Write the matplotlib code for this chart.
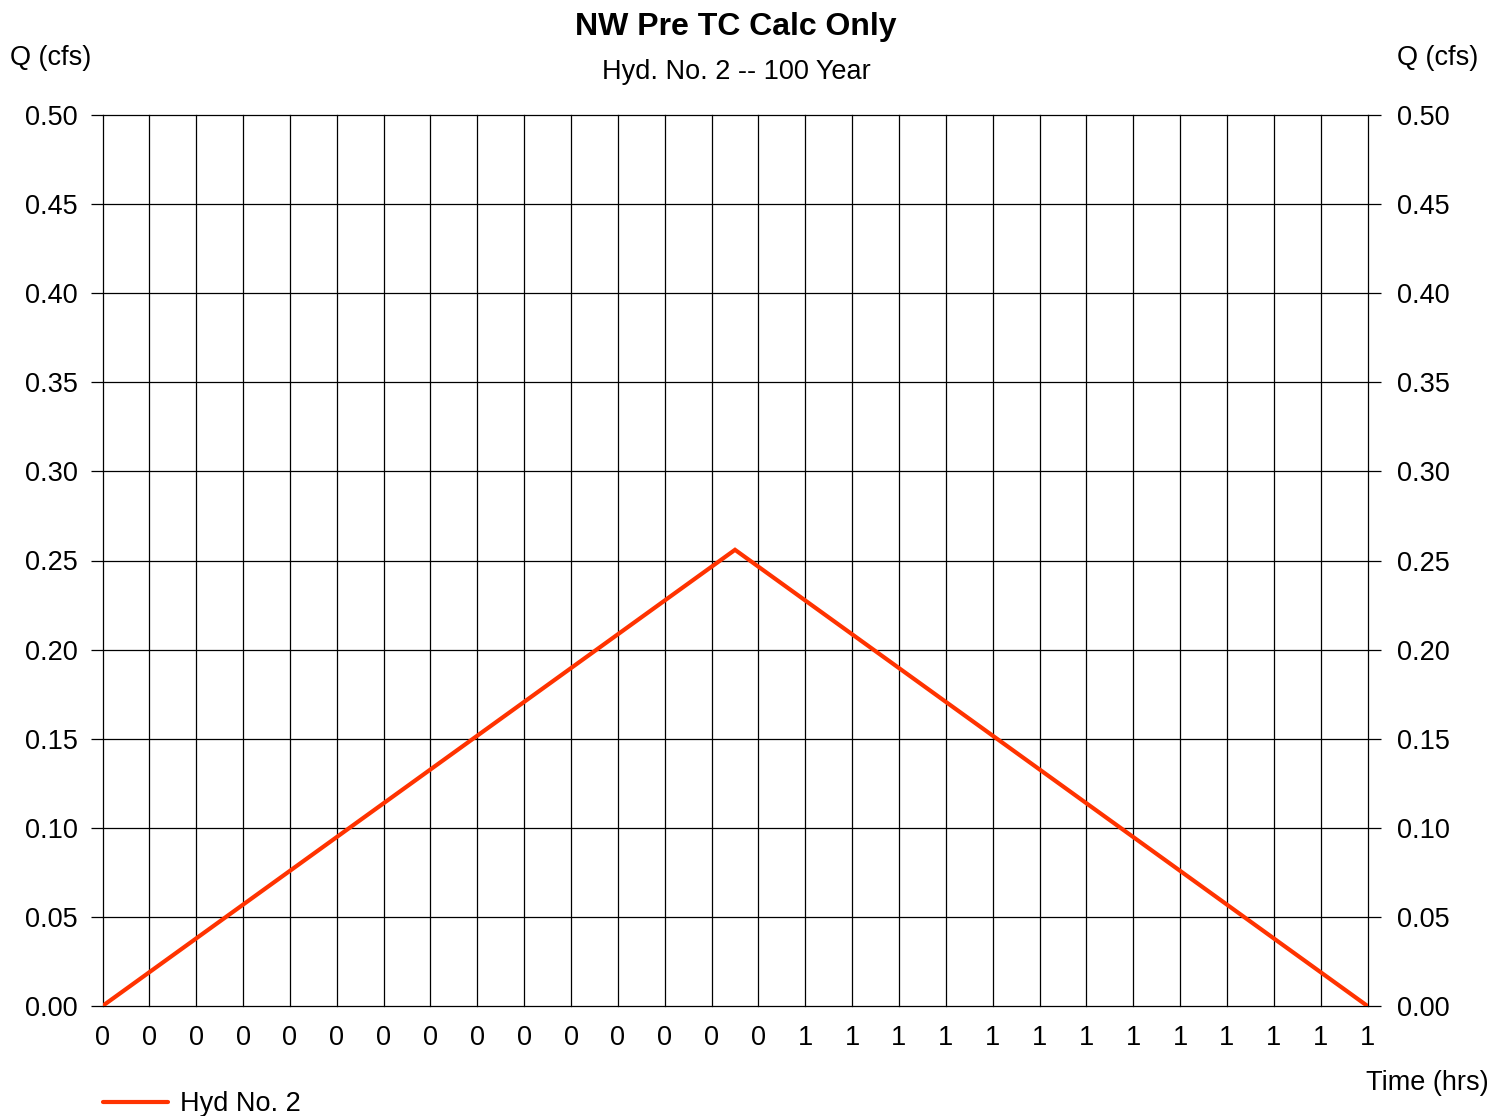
import numpy as np
import matplotlib
matplotlib.use('Agg')
import matplotlib.pyplot as plt

plt.rcParams['font.family'] = ['Liberation Sans', 'DejaVu Sans']

# hydrograph (x in time-step units, one step per grid column)
time_steps = [0, 13.5, 27]
flow_cfs = [0.0, 0.256, 0.0]

x_ticks = np.arange(28)
x_labels = ['0'] * 15 + ['1'] * 13
y_ticks = [0.0, 0.05, 0.10, 0.15, 0.20, 0.25, 0.30, 0.35, 0.40, 0.45, 0.50]
y_labels = ['%.2f' % v for v in y_ticks]

FS = 19.5
W, H = 1491, 1116
fig = plt.figure(figsize=(W / 100, H / 100), dpi=100)
ax = fig.add_axes([102.5 / W, (H - 1006) / H, (1367.5 - 102.5) / W, (1006 - 115) / H])

ax.plot(time_steps, flow_cfs, color='#ff3300', lw=3.0, label='Hyd No. 2',
        solid_capstyle='round', solid_joinstyle='miter', zorder=3)

ax.set_xlim(0, 27)
ax.set_ylim(0, 0.5)
ax.set_xticks(x_ticks)
ax.set_xticklabels(x_labels)
ax.set_yticks(y_ticks)
ax.set_yticklabels(y_labels)
ax.grid(True, color='black', lw=0.9)
for g in ax.get_xgridlines() + ax.get_ygridlines():
    g.set_clip_on(False)
for s in ax.spines.values():
    s.set_visible(False)

ax.tick_params(axis='x', length=0, pad=13.5, labelsize=FS)
ax.tick_params(axis='y', length=9, width=0.9, pad=9, labelsize=FS)

# right side axis labels sit a little further out
ax2 = ax.twinx()
ax2.set_ylim(0, 0.5)
ax2.set_yticks(y_ticks)
ax2.set_yticklabels(y_labels)
ax2.tick_params(axis='y', length=9, width=0.9, pad=12.5, labelsize=FS)
for s in ax2.spines.values():
    s.set_visible(False)

fig.text(736 / W, 1 - 26.5 / H, 'NW Pre TC Calc Only', ha='center', va='center',
         fontsize=23, fontweight='bold')
fig.text(736 / W, 1 - 72 / H, 'Hyd. No. 2 -- 100 Year', ha='center', va='center',
         fontsize=FS)
fig.text(10 / W, 1 - 58 / H, 'Q (cfs)', ha='left', va='center', fontsize=FS)
fig.text(1478 / W, 1 - 58 / H, 'Q (cfs)', ha='right', va='center', fontsize=FS)
fig.text(1489 / W, 1 - 1083 / H, 'Time (hrs)', ha='right', va='center', fontsize=FS)

fig.legend(loc='center left', bbox_to_anchor=(92 / W, 1 - 1104 / H), frameon=False,
           fontsize=FS, handlelength=2.4, handletextpad=0.45, borderaxespad=0)

fig.savefig('out.png', dpi=100)
